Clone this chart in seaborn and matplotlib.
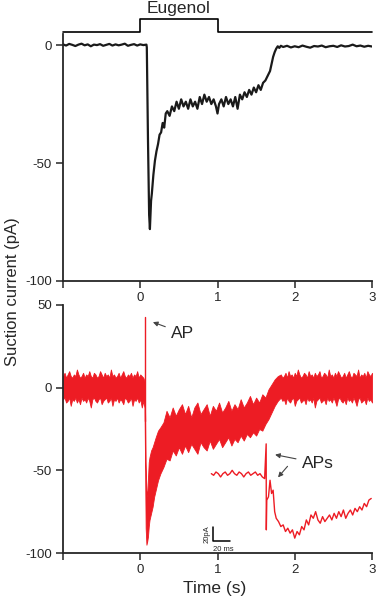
import numpy as np
import matplotlib
matplotlib.use("Agg")
import matplotlib.pyplot as plt
import seaborn as sns

sns.set_style("ticks")
plt.rcParams['font.family'] = ['Liberation Sans', 'DejaVu Sans']
plt.rcParams['axes.unicode_minus'] = False

RED = "#ED1C24"

# --- top trace (black, suction current) ---
t_base1 = np.linspace(-1.0, 0.08, 28)
v_base1 = [0.3, -0.2, 0.5, 0.1, -0.4, 0.2, 0.6, -0.1, 0.3, -0.5,
           0.2, 0.0, 0.4, -0.3, 0.1, 0.5, -0.2, 0.3, -0.1, 0.2,
           0.6, -0.3, 0.1, 0.4, -0.2, 0.3, 0.0, 0.2]
t_resp = [0.085, 0.10, 0.115, 0.125, 0.13, 0.14, 0.15, 0.17, 0.19, 0.21,
          0.23, 0.25, 0.27, 0.29, 0.31, 0.33, 0.35, 0.38, 0.41, 0.44,
          0.47, 0.50, 0.53, 0.56, 0.59, 0.62, 0.65, 0.68, 0.71, 0.74,
          0.77, 0.80, 0.83, 0.86, 0.89, 0.92, 0.95, 0.98, 1.00, 1.02,
          1.05, 1.08, 1.11, 1.14, 1.17, 1.20, 1.23, 1.26, 1.29, 1.32,
          1.35, 1.38, 1.41, 1.44, 1.47, 1.50, 1.53, 1.56, 1.59, 1.62,
          1.65, 1.68, 1.70, 1.72, 1.74, 1.76, 1.78, 1.80, 1.82]
v_resp = [-1, -40, -72, -78, -74, -66, -63, -55, -49, -45,
          -42, -38, -37, -33, -35, -29, -28, -30, -26, -28,
          -24, -27, -23, -26, -24, -27, -23, -26, -24, -27,
          -22, -25, -21, -24, -22, -25, -23, -26, -29, -25,
          -23, -26, -22, -25, -23, -26, -22, -27, -21, -23,
          -20, -22, -19, -21, -18, -20, -17, -19, -16, -15,
          -13, -11, -8, -5, -3, -1.5, -0.5, -1.2, -0.3]
t_base2 = np.linspace(1.85, 3.0, 24)
v_base2 = [-0.8, -0.3, -1.0, -0.5, -0.9, -0.2, -0.7, -1.1, -0.4, -0.6,
           -0.2, -0.9, -0.5, -0.3, -0.8, -0.1, -0.6, -0.4, 0.2, -0.5,
           -0.2, -0.7, -0.3, -0.6]

# stimulus bar
stim_t = [-1, 0, 0, 1, 1, 3]
stim_v = [5.5, 5.5, 11, 11, 5.5, 5.5]

# --- bottom trace (red, noise band envelope) ---
t_rb1 = np.linspace(-1.0, 0.04, 53)
up_rb1 = [7, 9, 6, 8, 10, 7, 6, 8, 7, 11, 8, 6, 7, 9, 6, 8, 7, 10, 7, 6,
          9, 8, 6, 7, 10, 8, 6, 9, 7, 8, 6, 11, 7, 8, 6, 7, 9, 6, 8, 10,
          7, 6, 8, 7, 9, 6, 8, 7, 10, 6, 8, 7, 6]
lo_rb1 = [-7, -6, -9, -8, -6, -11, -7, -8, -6, -9, -7, -10, -6, -8, -7,
          -9, -6, -8, -12, -7, -6, -8, -9, -7, -6, -10, -8, -7, -6, -9,
          -8, -6, -11, -7, -8, -6, -9, -7, -8, -10, -6, -7, -9, -8, -6,
          -11, -7, -8, -6, -9, -7, -12, -8]
t_rb2 = [0.055, 0.065, 0.07, 0.08, 0.09, 0.10, 0.11, 0.12, 0.14, 0.16,
         0.18, 0.20, 0.23, 0.26, 0.30, 0.34, 0.38, 0.42, 0.46, 0.50,
         0.54, 0.58, 0.62, 0.66, 0.70, 0.74, 0.78, 0.82, 0.86, 0.90,
         0.94, 0.98, 1.02, 1.06, 1.10, 1.14, 1.18, 1.22, 1.26, 1.30,
         1.34, 1.38, 1.42, 1.46, 1.50, 1.54, 1.58, 1.62, 1.66, 1.70,
         1.74, 1.78]
up_rb2 = [4, -20, -45, -62, -66, -55, -45, -42, -38, -36,
          -33, -30, -26, -24,
          -21, -14, -18, -12, -17, -13, -10, -16, -11, -18,
          -12, -9, -16, -13, -10, -17, -11, -14, -9, -15,
          -12, -8, -14, -10, -13, -7, -12, -9, -5, -10,
          -6, -9, -4, -6, -1, 2, 5, 7]
lo_rb2 = [-12, -60, -85, -95, -93, -90, -84, -80, -76, -72,
          -66, -62, -56, -52,
          -48, -43, -44, -38, -41, -36, -40, -35, -39, -34,
          -37, -40, -33, -36, -38, -32, -37, -34, -31, -36,
          -33, -30, -35, -31, -33, -29, -32, -28, -30, -27,
          -29, -25, -26, -22, -19, -15, -11, -8]
t_rb3 = np.linspace(1.82, 3.0, 60)
up_rb3 = [8, 6, 7, 9, 6, 10, 7, 8, 6, 9, 7, 11, 8, 6, 7, 9, 8, 6, 10, 7,
          8, 6, 9, 7, 8, 10, 6, 7, 9, 8, 6, 11, 7, 8, 6, 9, 7, 10, 8, 6,
          7, 9, 6, 8, 10, 7, 6, 9, 8, 7, 11, 6, 8, 7, 9, 6, 10, 8, 7, 9]
lo_rb3 = [-6, -8, -7, -10, -6, -8, -9, -7, -6, -11, -8, -7, -6, -9, -8,
          -7, -10, -6, -8, -7, -9, -6, -12, -8, -7, -6, -9, -8, -7, -10,
          -6, -8, -7, -9, -6, -8, -11, -7, -6, -8, -9, -7, -10, -6, -8,
          -7, -9, -6, -8, -11, -7, -6, -9, -8, -7, -10, -6, -8, -7, -9]

ap_t = [0.065, 0.065]
ap_v = [-20, 43]

# inset (expanded AP recording)
t_ins = [0.92, 0.95, 0.98, 1.01, 1.04, 1.07, 1.10, 1.13, 1.16, 1.19,
         1.22, 1.25, 1.28, 1.31, 1.34, 1.37, 1.40, 1.43, 1.46, 1.49,
         1.52, 1.55, 1.58, 1.61, 1.63, 1.632, 1.638, 1.66, 1.68, 1.70,
         1.72, 1.74, 1.76, 1.79, 1.82, 1.85, 1.88, 1.91, 1.94, 1.97,
         2.00, 2.03, 2.06, 2.09, 2.12, 2.15, 2.18, 2.21, 2.24, 2.27,
         2.30, 2.33, 2.36, 2.39, 2.42, 2.45, 2.48, 2.51, 2.54, 2.57,
         2.60, 2.63, 2.66, 2.69, 2.72, 2.75, 2.78, 2.81, 2.84, 2.87,
         2.90, 2.93, 2.96, 2.99]
v_ins = [-52, -53, -51, -52, -54, -52, -51, -53, -52, -50,
         -52, -53, -51, -52, -54, -52, -51, -53, -52, -51,
         -53, -52, -54, -55, -34, -86, -68, -66, -56, -64,
         -62, -75, -79, -81, -84, -83, -87, -85, -88, -86,
         -91, -87, -89, -84, -86, -80, -83, -77, -79, -75,
         -80, -82, -78, -81, -79, -77, -80, -76, -79, -75,
         -78, -74, -79, -76, -74, -77, -73, -75, -72, -74,
         -70, -72, -68, -67]

xticks = [-1, 0, 1, 2, 3]
xticklabels = ["", "0", "1", "2", "3"]

fig = plt.figure(figsize=(3.76, 6.0), dpi=100)
ax1 = fig.add_axes([63 / 376, 1 - 281 / 600, 309 / 376, 247 / 600])
ax2 = fig.add_axes([63 / 376, 1 - 553 / 600, 309 / 376, 248 / 600])

# top panel
t_black = np.concatenate([t_base1, t_resp, t_base2])
v_black = np.concatenate([v_base1, v_resp, v_base2])
sns.lineplot(x=t_black, y=v_black, ax=ax1, color="#1a1a1a", linewidth=1.6,
             sort=False, estimator=None)
ax1.plot(stim_t, stim_v, color="black", linewidth=1.2, clip_on=False)
ax1.text(0.5, 15.5, "Eugenol", ha="center", va="center", fontsize=12.5)
ax1.set_xlim(-1, 3)
ax1.set_ylim(-100, 4.7)
ax1.set_yticks([0, -50, -100])

# bottom panel
t_band = np.concatenate([t_rb1, t_rb2, t_rb3])
up_band = np.concatenate([up_rb1, up_rb2, up_rb3])
lo_band = np.concatenate([lo_rb1, lo_rb2, lo_rb3])
ax2.fill_between(t_band, lo_band, up_band, color=RED, linewidth=0.6)
sns.lineplot(x=ap_t, y=ap_v, ax=ax2, color=RED, linewidth=1.0,
             sort=False, estimator=None)
sns.lineplot(x=t_ins, y=v_ins, ax=ax2, color=RED, linewidth=1.0,
             sort=False, estimator=None)
ax2.set_xlim(-1, 3)
ax2.set_ylim(-100, 50)
ax2.set_yticks([50, 0, -50, -100])

# annotations
arrow = dict(arrowstyle="-|>", color="#444444", lw=0.8, mutation_scale=7)
ax2.annotate("AP", xy=(0.13, 40.2), xytext=(0.55, 33), fontsize=12.5,
             ha="center", va="center", arrowprops=arrow)
ax2.annotate("APs", xy=(1.71, -40.2), xytext=(2.30, -45.7), fontsize=12.5,
             ha="center", va="center", arrowprops=arrow)
ax2.annotate("", xy=(1.76, -55.5), xytext=(1.93, -46.3), arrowprops=arrow)

# scale bar for inset
ax2.plot([0.946, 0.946, 1.16], [-84, -92.7, -92.7], color="black", lw=1.1)
ax2.text(0.86, -88.4, "20pA", rotation=90, fontsize=5.5, ha="center", va="center")
ax2.text(1.075, -97.9, "20 ms", fontsize=5.5, ha="center", va="center")

for ax in (ax1, ax2):
    ax.set_xticks(xticks)
    ax.set_xticklabels(xticklabels)
    ax.tick_params(labelsize=9.5, length=5, width=1.1, pad=3)
    ax.set_xlabel("")
    ax.set_ylabel("")
    for s in ("left", "bottom"):
        ax.spines[s].set_linewidth(1.3)
sns.despine(fig=fig)

fig.text(13 / 376, 1 - 292 / 600, "Suction current (pA)", rotation=90,
         ha="center", va="center", fontsize=12)
fig.text(215 / 376, 1 - 589 / 600, "Time (s)", ha="center", va="center",
         fontsize=12.5)

fig.savefig("out.png", dpi=100)
